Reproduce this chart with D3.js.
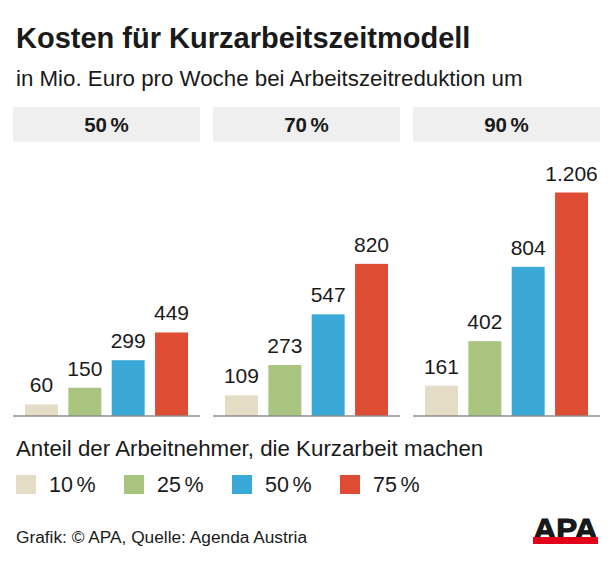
<!DOCTYPE html>
<html><head><meta charset="utf-8">
<script src="https://cdn.jsdelivr.net/npm/d3@7"></script>
<style>body{margin:0;background:#fff}svg{display:block}text{font-family:"Liberation Sans",Arial,sans-serif;fill:#1a1a1a}</style>
</head><body>
<script>
const groups = ["50 %", "70 %", "90 %"];
const shares = ["10 %", "25 %", "50 %", "75 %"];
const values10 = [60, 109, 161];
const values25 = [150, 273, 402];
const values50 = [299, 547, 804];
const values75 = [449, 820, 1206];
const colors = ["#e5dcc5", "#a9c47f", "#3aa9d8", "#df4c34"];
const series = [values10, values25, values50, values75];

const W = 616, H = 562;
const svg = d3.select("body").append("svg").attr("width", W).attr("height", H);

svg.append("text").attr("x", 16).attr("y", 48).style("font-size", "29px").style("font-weight", "bold").text("Kosten für Kurzarbeitszeitmodell");
svg.append("text").attr("x", 16).attr("y", 86).style("font-size", "22.3px").text("in Mio. Euro pro Woche bei Arbeitszeitreduktion um");

const x0 = d3.scaleBand().domain(groups).range([13, 600]).paddingInner(0.065);
const x1 = d3.scaleBand().domain(shares).range([12, x0.bandwidth() - 12]).paddingInner(0.24);
const y = d3.scaleLinear().domain([0, 1206]).range([415.5, 192.5]);
const fmt = d3.formatLocale({decimal: ",", thousands: ".", grouping: [3], currency: ["", "€"]}).format(",");

const g = svg.selectAll("g.grp").data(groups).join("g").attr("class", "grp")
  .attr("transform", d => `translate(${x0(d)},0)`);
g.append("rect").attr("x", 0).attr("y", 107).attr("width", x0.bandwidth()).attr("height", 35).attr("fill", "#efefef");
g.append("text").attr("x", x0.bandwidth() / 2).attr("y", 131.5).attr("text-anchor", "middle")
  .style("font-size", "20.5px").style("font-weight", "bold").style("word-spacing", "-2px").text(d => d);

g.each(function(gd, gi) {
  const sel = d3.select(this);
  const data = shares.map((s, si) => ({s, v: series[si][gi], c: colors[si]}));
  sel.selectAll("rect.bar").data(data).join("rect").attr("class", "bar")
    .attr("x", d => x1(d.s)).attr("width", x1.bandwidth())
    .attr("y", d => y(d.v)).attr("height", d => y(0) - y(d.v)).attr("fill", d => d.c);
  sel.selectAll("text.lbl").data(data).join("text").attr("class", "lbl")
    .attr("x", d => x1(d.s) + x1.bandwidth() / 2).attr("y", d => y(d.v) - 12)
    .attr("text-anchor", "middle").style("font-size", "21px").text(d => fmt(d.v));
  sel.append("line").attr("x1", 0).attr("x2", x0.bandwidth()).attr("y1", y(0) + 0.5).attr("y2", y(0) + 0.5)
    .attr("stroke", "#555").attr("stroke-width", 1.2);
});

svg.append("text").attr("x", 16).attr("y", 456).style("font-size", "22.3px").text("Anteil der Arbeitnehmer, die Kurzarbeit machen");
const leg = svg.selectAll("g.leg").data(shares).join("g").attr("class", "leg")
  .attr("transform", (d, i) => `translate(${16 + i * 108},475)`);
leg.append("rect").attr("width", 20).attr("height", 19).attr("fill", (d, i) => colors[i]);
leg.append("text").attr("x", 33).attr("y", 17).style("font-size", "21.5px").style("word-spacing", "-2.5px").text(d => d);

svg.append("text").attr("x", 16).attr("y", 543).style("font-size", "17.3px").text("Grafik: © APA, Quelle: Agenda Austria");

svg.append("text").attr("x", 565.5).attr("y", 539).attr("text-anchor", "middle")
  .style("font-size", "30px").style("font-weight", "900").style("stroke", "#111").style("stroke-width", "1px")
  .attr("textLength", 64).attr("lengthAdjust", "spacingAndGlyphs").text("APA");
svg.append("rect").attr("x", 533).attr("y", 537).attr("width", 65).attr("height", 7).attr("fill", "#e2001a");
</script>
</body></html>
